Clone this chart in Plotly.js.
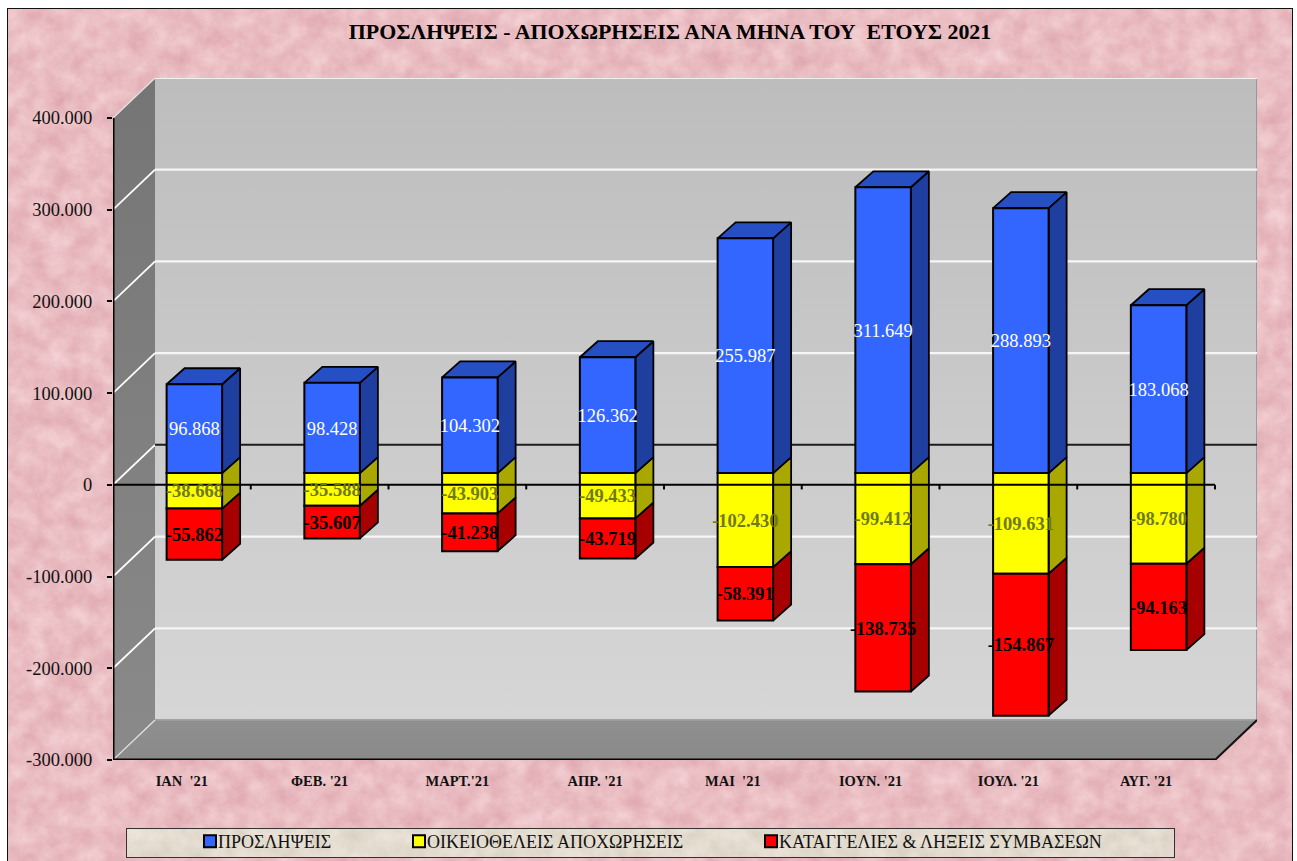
<!DOCTYPE html>
<html><head><meta charset="utf-8">
<script src="https://cdn.plot.ly/plotly-3.0.1.min.js"></script>
<style>
html,body{margin:0;padding:0;background:#fff;overflow:hidden;width:1297px;height:861px}
#frame{position:absolute;left:7px;top:8px;width:1284px;height:870px;border:1.5px solid #111;box-sizing:content-box;overflow:hidden}
#legbox{position:absolute;left:126px;top:828px;width:1047px;height:28px;border:1px solid #333}
svg.tex{display:block}
#chart{position:absolute;left:0;top:0;width:1297px;height:861px}
</style></head><body>
<div id="frame"><svg class="tex" width="1284" height="870"><filter id="m" x="0" y="0" width="100%" height="100%" color-interpolation-filters="sRGB"><feTurbulence type="fractalNoise" baseFrequency="0.05" numOctaves="4" seed="11"/><feColorMatrix values="0.10 0 0 0 0.865  0.20 0 0 0 0.64  0.18 0 0 0 0.67  0 0 0 0 1"/></filter><rect width="1284" height="870" filter="url(#m)"/></svg></div>
<div id="legbox"><svg class="tex" width="1047" height="28"><filter id="b" x="0" y="0" width="100%" height="100%" color-interpolation-filters="sRGB"><feTurbulence type="fractalNoise" baseFrequency="0.06" numOctaves="3" seed="5"/><feColorMatrix values="0.1 0 0 0 0.84  0.1 0 0 0 0.81  0.12 0 0 0 0.75  0 0 0 0 1"/></filter><rect width="1047" height="28" filter="url(#b)"/></svg></div>
<div id="chart"></div>
<script>
// ---- data ----
const categories = ["ΙΑΝ  '21","ΦΕΒ. '21","ΜΑΡΤ.'21","ΑΠΡ. '21","ΜΑΙ  '21","ΙΟΥΝ. '21","ΙΟΥΛ. '21","ΑΥΓ. '21"];
const hires        = [96868, 98428, 104302, 126362, 255987, 311649, 288893, 183068];
const resignations = [-38668, -35588, -43903, -49433, -102430, -99412, -109631, -98780];
const terminations = [-55862, -35607, -41238, -43719, -58391, -138735, -154867, -94163];
const seriesNames = ["ΠΡΟΣΛΗΨΕΙΣ","ΟΙΚΕΙΟΘΕΛΕΙΣ ΑΠΟΧΩΡΗΣΕΙΣ","ΚΑΤΑΓΓΕΛΙΕΣ & ΛΗΞΕΙΣ ΣΥΜΒΑΣΕΩΝ"];
const yTicks = [-300000,-200000,-100000,0,100000,200000,300000,400000];
const yTickText = ["-300.000","-200.000","-100.000","0","100.000","200.000","300.000","400.000"];
const titleText = "ΠΡΟΣΛΗΨΕΙΣ - ΑΠΟΧΩΡΗΣΕΙΣ ΑΝΑ ΜΗΝΑ ΤΟΥ  ΕΤΟΥΣ 2021";

// ---- oblique projection of the 3D look, in axis units ----
const wallDX = 0.305, wallDY = 43600;      // depth of the box
const gapDX = 0.0907, gapDY = 12800;       // box front to bar front
const barDX = 0.1307, barDY = 17450;       // depth of a bar
const barW = 0.403;
const labelDrop = 2200;                    // optical centring of the value labels
const yMin = -300000, yMax = 400000, n = categories.length;
const FONT = '"Liberation Serif", serif';
const cx = i => i + 0.5 + gapDX;
const fmt = v => (v < 0 ? '-' : '') + String(Math.abs(v)).replace(/\B(?=(\d{3})+$)/g, '.');

const poly = (pts, extra) => Object.assign({x: pts.map(p=>p[0]), y: pts.map(p=>p[1]), mode:'lines', fill:'toself',
  showlegend:false, hoverinfo:'skip', cliponaxis:false}, extra);
const seg = (x, y, color, width, xa, ya) => ({x, y, mode:'lines', line:{color, width}, showlegend:false, hoverinfo:'skip',
  cliponaxis:false, xaxis:xa||'x', yaxis:ya||'y'});

const traces = [];
// walls
traces.push(poly([[wallDX,yMin+wallDY],[n+wallDX,yMin+wallDY],[n+wallDX,yMax+wallDY],[wallDX,yMax+wallDY]],
  {line:{color:'#8a8a8a',width:1.5}, fillgradient:{type:'vertical',colorscale:[[0,'#d6d6d6'],[1,'#bdbdbd']]}}));
traces.push(poly([[0,yMin],[wallDX,yMin+wallDY],[wallDX,yMax+wallDY],[0,yMax]],
  {line:{color:'rgba(0,0,0,0)',width:0}, fillgradient:{type:'vertical',colorscale:[[0,'#8a8a8a'],[1,'#757575']]}}));
traces.push(poly([[0,yMin],[n,yMin],[n+wallDX,yMin+wallDY],[wallDX,yMin+wallDY]],
  {line:{color:'rgba(0,0,0,0)',width:0}, fillgradient:{type:'vertical',colorscale:[[0,'#8a8a8a'],[1,'#8f8f8f']]}}));
// grid on the walls
yTicks.forEach(v => {
  const top = v === yMax, bottom = v === yMin, zero = v === 0;
  traces.push(seg([0,wallDX],[v,v+wallDY], bottom||top ? '#e6e6e6' : '#ffffff', bottom||top ? 1.2 : 1.8));
  traces.push(seg([wallDX,n+wallDX],[v+wallDY,v+wallDY],
    zero ? '#1c1c1c' : bottom ? '#a8a8a8' : top ? '#f0f0f0' : '#f6f6f6', zero ? 2 : bottom ? 1.2 : 2.2));
});
traces.push(seg([n,n+wallDX],[yMin,yMin+wallDY],'#111',2));

// side and top faces of the bars
function sideFaces(lows, highs, fill){
  const x=[], y=[];
  lows.forEach((lo,i) => {
    const r = cx(i)+barW/2, hi = highs[i];
    x.push(r, r+barDX, r+barDX, r, r, null);
    y.push(lo, lo+barDY, hi+barDY, hi, lo, null);
  });
  return {x, y, mode:'lines', fill:'toself', fillcolor:fill, line:{color:'#000',width:1.8}, showlegend:false, hoverinfo:'skip'};
}
const base0 = categories.map(()=>gapDY);
const hiTop = hires.map(v=>v+gapDY);
const yelBot = resignations.map(v=>v+gapDY);
const redBot = terminations.map((v,i)=>v+yelBot[i]);
traces.push(sideFaces(redBot, yelBot, '#a60000'));
traces.push(sideFaces(yelBot, base0, '#a8a800'));
traces.push(sideFaces(base0, hiTop, '#1f3fa0'));
{ const x=[], y=[];
  hiTop.forEach((t,i)=>{ const l=cx(i)-barW/2, r=cx(i)+barW/2;
    x.push(l,l+barDX,r+barDX,r,l,null); y.push(t,t+barDY,t+barDY,t,t,null); });
  traces.push({x,y,mode:'lines',fill:'toself',fillcolor:'#264fc4',line:{color:'#000',width:1.8},showlegend:false,hoverinfo:'skip'});
}

// front faces
const xs = categories.map((_,i)=>cx(i));
function bars(vals, bases, color, name, lw){
  return {type:'bar', x:xs, y:vals, base:bases, width:barW, name, legendwidth:lw, xaxis:'x2', yaxis:'y2', hoverinfo:'skip',
    marker:{color, line:{color:'#000',width:2}}};
}
traces.push(bars(hires, base0, '#3366ff', seriesNames[0], 164));
traces.push(bars(resignations, base0, '#ffff00', seriesNames[1], 307));
traces.push(bars(terminations, yelBot, '#ff0000', seriesNames[2], 340));

// axis lines drawn over the bars
{ const x=[0,n], y=[0,0];
  for(let i=1;i<=n;i++){ x.push(null,i,i); y.push(null,0,-5000); }
  traces.push(seg(x,y,'#000',2,'x2','y2'));
}
traces.push(seg([0,0],[yMin,yMax],'#000',3,'x2','y2'));
traces.push(seg([0,n],[yMin,yMin],'#000',3,'x2','y2'));

// value labels
function labels(vals, bases, color, weight){
  return {x:xs, y:vals.map((v,i)=>bases[i]+v/2-labelDrop), text:vals.map(fmt), mode:'text', textposition:'middle center',
    textfont:{family:FONT,size:18.5,color,weight}, showlegend:false, hoverinfo:'skip', cliponaxis:false, xaxis:'x2', yaxis:'y2'};
}
traces.push(labels(hires, base0, '#ffffff', 'normal'));
traces.push(labels(resignations, base0, '#6e7a14', 'bold'));
traces.push(labels(terminations, yelBot, '#000000', 'bold'));

const xRange=[0,n+wallDX], yRange=[yMin,yMax+wallDY];
const layout = {
  width:1297, height:861, paper_bgcolor:'rgba(0,0,0,0)', plot_bgcolor:'rgba(0,0,0,0)',
  margin:{l:113,r:40,t:78,b:101,pad:0,autoexpand:false},
  barmode:'overlay', hovermode:false,
  title:{text:'<b>'+titleText+'</b>', x:670/1297, xanchor:'center', y:1-31/861, yanchor:'middle',
    font:{family:FONT,size:21.9,color:'#000'}},
  xaxis:{range:xRange, tickvals:categories.map((_,i)=>i+0.5), ticktext:categories.map(c=>'<b>'+c+'</b>'), ticks:'', showgrid:false, zeroline:false,
    showline:false, fixedrange:true, tickfont:{family:FONT,size:14.5,color:'#111'}, ticklabelstandoff:10},
  yaxis:{range:yRange, tickvals:yTicks, ticktext:yTickText, ticks:'outside', ticklen:5, tickwidth:1.5, tickcolor:'#000', showgrid:false, zeroline:false,
    showline:false, fixedrange:true, tickfont:{family:FONT,size:18.5,color:'#111'}, ticklabelstandoff:11},
  xaxis2:{range:xRange, overlaying:'x', anchor:'y2', visible:false, fixedrange:true},
  yaxis2:{range:yRange, overlaying:'y', anchor:'x2', visible:false, fixedrange:true},
  legend:{orientation:'h', x:(190-113)/1144, xanchor:'left', y:(760-823)/682, yanchor:'top', bgcolor:'rgba(0,0,0,0)',
    borderwidth:0, font:{family:FONT,size:18,color:'#111'}, itemclick:false, itemdoubleclick:false, traceorder:'normal'},
  showlegend:true
};
Plotly.newPlot('chart', traces, layout, {displayModeBar:false, responsive:false}).then(() => {
  // the reference sets its legend text tight against the swatch
  document.querySelectorAll('#chart .legendtext').forEach(t => t.setAttribute('x', 28));
});
</script>
</body></html>
